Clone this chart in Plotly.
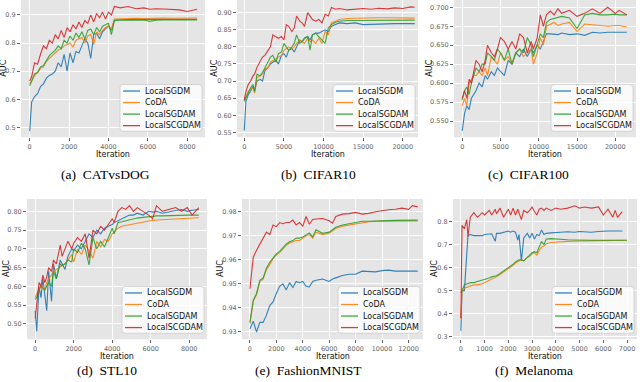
import plotly.graph_objects as go

names = ["LocalSGDM", "CoDA", "LocalSGDAM", "LocalSCGDAM"]
colors = ["#1f77b4", "#ff7f0e", "#2ca02c", "#d62728"]

# (a) CATvsDOG
iter_cat = [0, 100, 250, 400, 550, 700, 850, 1000, 1150, 1300, 1450, 1600, 1750, 1900, 2050, 2200, 2350,
            2500, 2650, 2800, 2950, 3100, 3250, 3400, 3550, 3700, 3850, 4000, 4150, 4300, 4600, 5000, 5400,
            5800, 6100, 6400, 6800, 7200, 7600, 8000, 8500]
cat_sgdm = [0.487, 0.59, 0.61, 0.62, 0.645, 0.655, 0.675, 0.685, 0.69, 0.70, 0.73, 0.715, 0.76, 0.70, 0.765,
            0.73, 0.77, 0.765, 0.79, 0.815, 0.80, 0.745, 0.83, 0.835, 0.815, 0.84, 0.85, 0.86, 0.845, 0.882,
            0.883, 0.884, 0.883, 0.884, 0.884, 0.885, 0.884, 0.884, 0.885, 0.884, 0.884]
cat_coda = [0.655, 0.665, 0.685, 0.695, 0.71, 0.715, 0.735, 0.745, 0.755, 0.765, 0.775, 0.78, 0.79, 0.795,
            0.80, 0.785, 0.81, 0.815, 0.82, 0.80, 0.825, 0.83, 0.795, 0.84, 0.83, 0.845, 0.855, 0.86, 0.85,
            0.885, 0.886, 0.887, 0.888, 0.887, 0.888, 0.888, 0.889, 0.888, 0.889, 0.889, 0.889]
cat_sgdam = [0.648, 0.665, 0.69, 0.695, 0.715, 0.72, 0.74, 0.755, 0.765, 0.775, 0.79, 0.78, 0.81, 0.80, 0.825,
             0.81, 0.835, 0.82, 0.84, 0.815, 0.845, 0.85, 0.83, 0.855, 0.84, 0.86, 0.865, 0.87, 0.83, 0.88,
             0.881, 0.882, 0.881, 0.882, 0.877, 0.881, 0.882, 0.882, 0.881, 0.882, 0.882]
cat_scgdam = [0.665, 0.68, 0.73, 0.725, 0.76, 0.79, 0.78, 0.81, 0.80, 0.83, 0.815, 0.845, 0.82, 0.855, 0.84,
              0.865, 0.85, 0.875, 0.855, 0.88, 0.87, 0.90, 0.875, 0.905, 0.89, 0.91, 0.885, 0.91, 0.90, 0.93,
              0.925, 0.93, 0.922, 0.925, 0.92, 0.922, 0.921, 0.92, 0.918, 0.912, 0.92]

# (b) CIFAR10
iter_c10 = [0, 200, 500, 800, 1100, 1300, 1600, 2000, 2300, 2600, 3000, 3300, 3600, 4000, 4300, 4700, 5000,
            5300, 5600, 6000, 6300, 6600, 7000, 7300, 7600, 8000, 8300, 8600, 9000, 9400, 9800, 10200, 10600,
            11000, 11500, 12000, 13000, 14000, 15000, 16000, 17000, 18000, 19000, 20000, 21000, 21500]
c10_sgdm = [0.555, 0.64, 0.66, 0.67, 0.685, 0.67, 0.70, 0.705, 0.70, 0.73, 0.74, 0.75, 0.755, 0.76, 0.75, 0.775,
            0.78, 0.77, 0.79, 0.795, 0.785, 0.80, 0.82, 0.815, 0.825, 0.83, 0.82, 0.835, 0.84, 0.84, 0.845, 0.85,
            0.845, 0.86, 0.865, 0.87, 0.868, 0.87, 0.865, 0.866, 0.868, 0.867, 0.868, 0.868, 0.869, 0.868]
c10_coda = [0.645, 0.655, 0.67, 0.675, 0.68, 0.665, 0.71, 0.715, 0.72, 0.735, 0.74, 0.755, 0.76, 0.765, 0.77,
            0.775, 0.79, 0.795, 0.80, 0.795, 0.80, 0.81, 0.82, 0.815, 0.81, 0.825, 0.815, 0.82, 0.81, 0.825,
            0.81, 0.845, 0.835, 0.87, 0.875, 0.88, 0.883, 0.884, 0.885, 0.884, 0.885, 0.885, 0.885, 0.885,
            0.885, 0.884]
c10_sgdam = [0.64, 0.65, 0.67, 0.68, 0.69, 0.67, 0.72, 0.715, 0.725, 0.74, 0.76, 0.77, 0.775, 0.755, 0.78,
             0.785, 0.81, 0.80, 0.79, 0.80, 0.81, 0.835, 0.81, 0.815, 0.825, 0.83, 0.79, 0.835, 0.84, 0.83,
             0.82, 0.81, 0.855, 0.865, 0.872, 0.875, 0.877, 0.877, 0.878, 0.878, 0.878, 0.878, 0.878, 0.878,
             0.878, 0.878]
c10_scgdam = [0.645, 0.67, 0.69, 0.70, 0.715, 0.72, 0.74, 0.76, 0.77, 0.775, 0.79, 0.80, 0.835, 0.83, 0.825,
              0.83, 0.82, 0.865, 0.86, 0.845, 0.855, 0.89, 0.875, 0.87, 0.86, 0.90, 0.89, 0.88, 0.875, 0.88,
              0.87, 0.895, 0.89, 0.915, 0.91, 0.912, 0.908, 0.91, 0.912, 0.91, 0.913, 0.911, 0.914, 0.912,
              0.917, 0.916]

# (c) CIFAR100
iter_c100 = [0, 300, 600, 900, 1200, 1500, 1800, 2200, 2600, 3000, 3300, 3800, 4200, 4600, 5000, 5500, 6000,
             6500, 7000, 7500, 8000, 8500, 9000, 9300, 9800, 10200, 10600, 11000, 11500, 12000, 12500, 13000,
             14000, 15000, 16000, 17000, 18000, 19000, 20000, 20500, 21500]
c100_sgdm = [0.537, 0.56, 0.57, 0.565, 0.58, 0.585, 0.59, 0.60, 0.595, 0.61, 0.605, 0.615, 0.61, 0.62, 0.615,
             0.61, 0.63, 0.625, 0.64, 0.635, 0.645, 0.635, 0.645, 0.64, 0.65, 0.645, 0.655, 0.665, 0.665,
             0.665, 0.664, 0.666, 0.664, 0.665, 0.663, 0.667, 0.666, 0.667, 0.667, 0.667, 0.667]
c100_coda = [0.57, 0.58, 0.57, 0.60, 0.605, 0.61, 0.61, 0.615, 0.61, 0.62, 0.61, 0.635, 0.63, 0.625, 0.64,
             0.63, 0.635, 0.625, 0.64, 0.645, 0.635, 0.64, 0.645, 0.625, 0.64, 0.66, 0.65, 0.675, 0.678, 0.68,
             0.676, 0.678, 0.68, 0.668, 0.678, 0.677, 0.676, 0.675, 0.676, 0.676, 0.674]
c100_sgdam = [0.578, 0.59, 0.595, 0.585, 0.60, 0.61, 0.62, 0.615, 0.625, 0.625, 0.64, 0.635, 0.63, 0.645,
              0.64, 0.63, 0.645, 0.625, 0.64, 0.645, 0.64, 0.66, 0.65, 0.635, 0.65, 0.665, 0.66, 0.68, 0.684,
              0.685, 0.686, 0.688, 0.686, 0.672, 0.69, 0.692, 0.69, 0.69, 0.691, 0.69, 0.69]
c100_scgdam = [0.58, 0.59, 0.58, 0.605, 0.60, 0.615, 0.63, 0.625, 0.615, 0.63, 0.65, 0.64, 0.635, 0.645, 0.66,
               0.655, 0.645, 0.655, 0.645, 0.665, 0.66, 0.64, 0.655, 0.645, 0.66, 0.69, 0.675, 0.69, 0.695,
               0.69, 0.698, 0.692, 0.696, 0.688, 0.692, 0.698, 0.692, 0.70, 0.692, 0.696, 0.69]

# (d) STL10
iter_stl = [0, 80, 200, 300, 400, 500, 600, 700, 850, 950, 1100, 1300, 1400, 1550, 1700, 1900, 2000, 2200,
            2400, 2600, 2800, 3000, 3200, 3400, 3600, 3800, 4000, 4100, 4300, 4500, 4700, 4900, 5100, 5300,
            5600, 5900, 6100, 6300, 6600, 7000, 7300, 7600, 7900, 8150, 8500]
stl_sgdm = [0.535, 0.48, 0.60, 0.57, 0.62, 0.58, 0.535, 0.64, 0.56, 0.66, 0.62, 0.67, 0.66, 0.645, 0.68, 0.70,
            0.695, 0.71, 0.70, 0.72, 0.74, 0.73, 0.75, 0.74, 0.755, 0.76, 0.765, 0.77, 0.775, 0.78, 0.785,
            0.79, 0.79, 0.795, 0.79, 0.80, 0.798, 0.80, 0.795, 0.80, 0.802, 0.805, 0.80, 0.803, 0.805]
stl_coda = [0.57, 0.58, 0.595, 0.60, 0.60, 0.59, 0.61, 0.62, 0.63, 0.64, 0.645, 0.65, 0.655, 0.66, 0.67,
            0.685, 0.665, 0.70, 0.685, 0.71, 0.695, 0.675, 0.72, 0.705, 0.725, 0.72, 0.74, 0.745, 0.755, 0.76,
            0.762, 0.765, 0.768, 0.77, 0.773, 0.775, 0.776, 0.777, 0.778, 0.78, 0.781, 0.782, 0.782, 0.783,
            0.783]
stl_sgdam = [0.565, 0.57, 0.59, 0.60, 0.595, 0.59, 0.60, 0.61, 0.60, 0.64, 0.62, 0.66, 0.655, 0.66, 0.67,
             0.665, 0.70, 0.69, 0.715, 0.70, 0.657, 0.73, 0.70, 0.72, 0.705, 0.73, 0.755, 0.74, 0.77, 0.772,
             0.775, 0.778, 0.78, 0.782, 0.784, 0.786, 0.787, 0.788, 0.788, 0.789, 0.79, 0.79, 0.79, 0.79, 0.79]
stl_scgdam = [0.515, 0.55, 0.61, 0.60, 0.63, 0.61, 0.625, 0.65, 0.64, 0.67, 0.66, 0.71, 0.68, 0.70, 0.72,
              0.70, 0.715, 0.73, 0.72, 0.74, 0.675, 0.75, 0.74, 0.76, 0.75, 0.765, 0.78, 0.77, 0.80, 0.81,
              0.805, 0.815, 0.80, 0.81, 0.80, 0.79, 0.78, 0.815, 0.80, 0.805, 0.81, 0.80, 0.81, 0.79, 0.81]

# (e) FashionMNIST
iter_fm = [0, 250, 500, 750, 1000, 1250, 1500, 1750, 2000, 2250, 2500, 2750, 3000, 3250, 3500, 3750, 4000,
           4250, 4500, 4750, 5000, 5500, 6000, 6250, 6500, 7000, 7500, 8000, 8500, 9000, 9500, 10000, 10500,
           11000, 11500, 12000, 12300, 12700]
fm_sgdm = [0.9313, 0.9345, 0.930, 0.934, 0.934, 0.937, 0.941, 0.9425, 0.946, 0.949, 0.950, 0.9475, 0.9505,
           0.9485, 0.951, 0.9505, 0.951, 0.949, 0.9487, 0.951, 0.9515, 0.952, 0.951, 0.952, 0.9525, 0.9535,
           0.954, 0.954, 0.9553, 0.955, 0.955, 0.9555, 0.9557, 0.9553, 0.9553, 0.9555, 0.9553, 0.9553]
fm_coda = [0.9335, 0.943, 0.9455, 0.951, 0.952, 0.956, 0.958, 0.9605, 0.962, 0.963, 0.9645, 0.966, 0.967,
           0.9675, 0.968, 0.968, 0.969, 0.970, 0.9705, 0.969, 0.9715, 0.9705, 0.971, 0.972, 0.973, 0.974,
           0.9745, 0.975, 0.9755, 0.9758, 0.976, 0.976, 0.9761, 0.9761, 0.9762, 0.9762, 0.9762, 0.9762]
fm_sgdam = [0.934, 0.943, 0.946, 0.9515, 0.9525, 0.9565, 0.959, 0.961, 0.9625, 0.9635, 0.965, 0.9665, 0.9675,
            0.968, 0.969, 0.969, 0.9695, 0.9705, 0.9712, 0.9695, 0.9725, 0.971, 0.9715, 0.9725, 0.9735, 0.9745,
            0.975, 0.9755, 0.976, 0.976, 0.9762, 0.9763, 0.9763, 0.9764, 0.9764, 0.9765, 0.9765, 0.9765]
fm_scgdam = [0.948, 0.961, 0.964, 0.9665, 0.9695, 0.9715, 0.9705, 0.9745, 0.9738, 0.9755, 0.975, 0.9755,
             0.9755, 0.9765, 0.9745, 0.9755, 0.974, 0.978, 0.9748, 0.9768, 0.977, 0.9772, 0.9762, 0.9752,
             0.978, 0.979, 0.9792, 0.9797, 0.979, 0.9793, 0.980, 0.9805, 0.9808, 0.981, 0.9815, 0.981,
             0.9825, 0.982]

# (f) Melanoma
iter_mel = [0, 50, 150, 250, 300, 400, 550, 700, 900, 1000, 1200, 1300, 1450, 1500, 1650, 1800, 2000, 2100,
            2200, 2300, 2400, 2450, 2550, 2650, 2800, 2900, 3000, 3100, 3200, 3300, 3400, 3500, 3600, 3800,
            4000, 4200, 4500, 4800, 5000, 5200, 5500, 5800, 6000, 6200, 6400, 6500, 6600, 6800, 7000]
mel_sgdm = [0.325, 0.50, 0.50, 0.70, 0.74, 0.745, 0.74, 0.74, 0.74, 0.745, 0.745, 0.748, 0.715, 0.75, 0.75,
            0.755, 0.76, 0.755, 0.76, 0.755, 0.72, 0.745, 0.63, 0.73, 0.75, 0.73, 0.75, 0.725, 0.745, 0.74,
            0.765, 0.745, 0.75, 0.752, 0.755, 0.755, 0.757, 0.755, 0.758, 0.757, 0.755, 0.758, 0.76, 0.76,
            0.76, 0.76, 0.76, 0.76, None]
mel_coda = [0.38, 0.50, 0.51, 0.515, 0.515, 0.52, 0.525, 0.525, 0.53, 0.535, 0.545, 0.55, 0.555, 0.56, 0.57,
            0.58, 0.595, 0.60, 0.61, 0.62, 0.625, 0.63, 0.635, 0.63, 0.645, 0.65, 0.66, 0.665, 0.655, 0.675,
            0.69, 0.695, 0.705, 0.71, 0.712, 0.713, 0.715, 0.716, 0.717, 0.717, 0.718, 0.718, 0.718, 0.718,
            0.718, 0.719, 0.719, 0.72, 0.72]
mel_sgdam = [0.49, 0.50, 0.525, 0.53, 0.53, 0.535, 0.535, 0.54, 0.545, 0.55, 0.555, 0.56, 0.565, 0.565, 0.575,
             0.585, 0.60, 0.605, 0.615, 0.625, 0.63, 0.635, 0.635, 0.63, 0.645, 0.655, 0.665, 0.67, 0.665,
             0.69, 0.715, 0.70, 0.725, 0.727, 0.725, 0.724, 0.722, 0.721, 0.72, 0.72, 0.72, 0.72, 0.72, 0.72,
             0.72, 0.72, 0.72, 0.72, 0.72]
mel_scgdam = [0.38, 0.785, 0.77, 0.81, 0.735, 0.82, 0.84, 0.82, 0.84, 0.83, 0.85, 0.83, 0.855, 0.835, 0.86,
              0.82, 0.855, 0.83, 0.86, 0.83, 0.855, 0.84, 0.81, 0.85, 0.84, 0.85, 0.865, 0.845, 0.83, 0.855,
              0.86, 0.85, 0.86, 0.85, 0.86, 0.855, 0.86, 0.87, 0.86, 0.865, 0.86, 0.865, 0.83, 0.855, 0.82,
              0.85, 0.82, 0.845, None]

W, H = 640, 382

panels = [
    dict(cap="(a)  CATvsDOG", x=iter_cat, ys=[cat_sgdm, cat_coda, cat_sgdam, cat_scgdam],
         box=(21, 0, 205, 138), xr=[-440, 8900], yr=[0.465, 0.953],
         xt=[0, 2000, 4000, 6000, 8000], yt=[0.5, 0.6, 0.7, 0.8, 0.9], fmt=".1f", capx=105, ytx=4),
    dict(cap="(b)  CIFAR10", x=iter_c10, ys=[c10_sgdm, c10_coda, c10_sgdam, c10_scgdam],
         box=(237, 0, 418, 138), xr=[-920, 21920], yr=[0.5355, 0.937],
         xt=[0, 5000, 10000, 15000, 20000], yt=[0.55, 0.60, 0.65, 0.70, 0.75, 0.80, 0.85, 0.90], fmt=".2f",
         capx=318, ytx=215),
    dict(cap="(c)  CIFAR100", x=iter_c100, ys=[c100_sgdm, c100_coda, c100_sgdam, c100_scgdam],
         box=(454, 0, 636, 138), xr=[-1075, 22700], yr=[0.5286, 0.7096],
         xt=[0, 5000, 10000, 15000, 20000], yt=[0.55, 0.575, 0.6, 0.625, 0.65, 0.675, 0.7], fmt=".3f",
         capx=528, ytx=430),
    dict(cap="(d)  STL10", x=iter_stl, ys=[stl_sgdm, stl_coda, stl_sgdam, stl_scgdam],
         box=(27, 200, 207, 341), xr=[-425, 8925], yr=[0.459, 0.833],
         xt=[0, 2000, 4000, 6000, 8000], yt=[0.5, 0.55, 0.6, 0.65, 0.7, 0.75, 0.8], fmt=".2f",
         capx=107, ytx=6),
    dict(cap="(e)  FashionMNIST", x=iter_fm, ys=[fm_sgdm, fm_coda, fm_sgdam, fm_scgdam],
         box=(242, 200, 423, 341), xr=[-600, 13100], yr=[0.927, 0.9853],
         xt=[0, 2000, 4000, 6000, 8000, 10000, 12000], yt=[0.93, 0.94, 0.95, 0.96, 0.97, 0.98], fmt=".2f",
         capx=308, ytx=220),
    dict(cap="(f)  Melanoma", x=iter_mel, ys=[mel_sgdm, mel_coda, mel_sgdam, mel_scgdam],
         box=(453, 200, 637, 341), xr=[-330, 7420], yr=[0.288, 0.9],
         xt=[0, 1000, 2000, 3000, 4000, 5000, 6000, 7000], yt=[0.3, 0.4, 0.5, 0.6, 0.7, 0.8], fmt=".1f",
         capx=534, ytx=434),
]


def px(x, y):
    return x / W, 1 - y / H


fig = go.Figure()
shapes = []
annotations = []
tickfont = dict(family="DejaVu Sans", size=6.5, color="#666666")

for i, p in enumerate(panels):
    n = "" if i == 0 else str(i + 1)
    x0, y0, x1, y1 = p["box"]
    for name, col, ys in zip(names, colors, p["ys"]):
        fig.add_trace(go.Scatter(x=p["x"], y=ys, mode="lines", name=name, showlegend=False,
                                 line=dict(color=col, width=1.1), opacity=0.9,
                                 xaxis="x" + n, yaxis="y" + n))
    fig.layout["xaxis" + n] = dict(domain=[x0 / W, x1 / W], anchor="y" + n, range=p["xr"],
                                   tickvals=p["xt"], tickformat="d", ticks="outside", ticklen=3,
                                   tickcolor="#666666", tickwidth=0.8, tickfont=tickfont,
                                   gridcolor="white", gridwidth=0.9, zeroline=False, showline=False)
    fig.layout["yaxis" + n] = dict(domain=[1 - y1 / H, 1 - y0 / H], anchor="x" + n, range=p["yr"],
                                   tickvals=p["yt"], tickformat=p["fmt"], ticks="outside", ticklen=3,
                                   tickcolor="#666666", tickwidth=0.8, tickfont=tickfont,
                                   gridcolor="white", gridwidth=0.9, zeroline=False, showline=False)

    # axis titles and caption
    annotations.append(dict(x=(x0 + x1) / 2 / W, y=1 - (y1 + 17) / H, xref="paper", yref="paper",
                            text="Iteration", showarrow=False, xanchor="center", yanchor="middle",
                            borderpad=0, font=dict(family="DejaVu Sans", size=8, color="#111111")))
    annotations.append(dict(x=p["ytx"] / W, y=1 - (y0 + y1) / 2 / H, xref="paper", yref="paper",
                            text="AUC", textangle=-90, showarrow=False, xanchor="center",
                            yanchor="middle", borderpad=0,
                            font=dict(family="DejaVu Sans", size=8, color="#111111")))
    cap_y = 175 if y0 == 0 else 372
    annotations.append(dict(x=p["capx"] / W, y=1 - cap_y / H, xref="paper", yref="paper",
                            text=p["cap"], showarrow=False, xanchor="center", yanchor="middle",
                            borderpad=0, font=dict(family="Liberation Serif", size=13.5, color="#000000")))

    # legend box, drawn by hand so rows stay as tight as the matplotlib one
    bx1, by1 = x1 - 3, y1 - 6
    bx0, by0 = bx1 - 82, by1 - 47
    r = 3
    ax0, ay0 = px(bx0, by0)
    ax1, ay1 = px(bx1, by1)
    rx, ry = r / W, r / H
    path = (f"M {ax0 + rx},{ay0} L {ax1 - rx},{ay0} Q {ax1},{ay0} {ax1},{ay0 - ry} "
            f"L {ax1},{ay1 + ry} Q {ax1},{ay1} {ax1 - rx},{ay1} L {ax0 + rx},{ay1} "
            f"Q {ax0},{ay1} {ax0},{ay1 + ry} L {ax0},{ay0 - ry} Q {ax0},{ay0} {ax0 + rx},{ay0} Z")
    shapes.append(dict(type="path", path=path, xref="paper", yref="paper",
                       fillcolor="rgba(255,255,255,0.8)", line=dict(color="#cccccc", width=0.8)))
    for k, (name, col) in enumerate(zip(names, colors)):
        ey = by0 + 6.5 + 11.6 * k
        lx0, ly = px(bx0 + 3, ey)
        lx1, _ = px(bx0 + 20, ey)
        shapes.append(dict(type="line", x0=lx0, x1=lx1, y0=ly, y1=ly, xref="paper", yref="paper",
                           line=dict(color=col, width=1.3), opacity=0.9))
        tx, _ = px(bx0 + 24, ey)
        annotations.append(dict(x=tx, y=ly, xref="paper", yref="paper", text=name, showarrow=False,
                                xanchor="left", yanchor="middle", borderpad=0,
                                font=dict(family="DejaVu Sans", size=8, color="#111111")))

fig.update_layout(width=W, height=H, margin=dict(l=0, r=0, t=0, b=0),
                  paper_bgcolor="white", plot_bgcolor="#E5E5E5",
                  shapes=shapes, annotations=annotations, showlegend=False)

# the page body has a default 8px margin that would push the 640x382 figure out of the window
fig.write_html("out.html", config={"displayModeBar": False},
               post_script="document.body.style.margin='0';")
